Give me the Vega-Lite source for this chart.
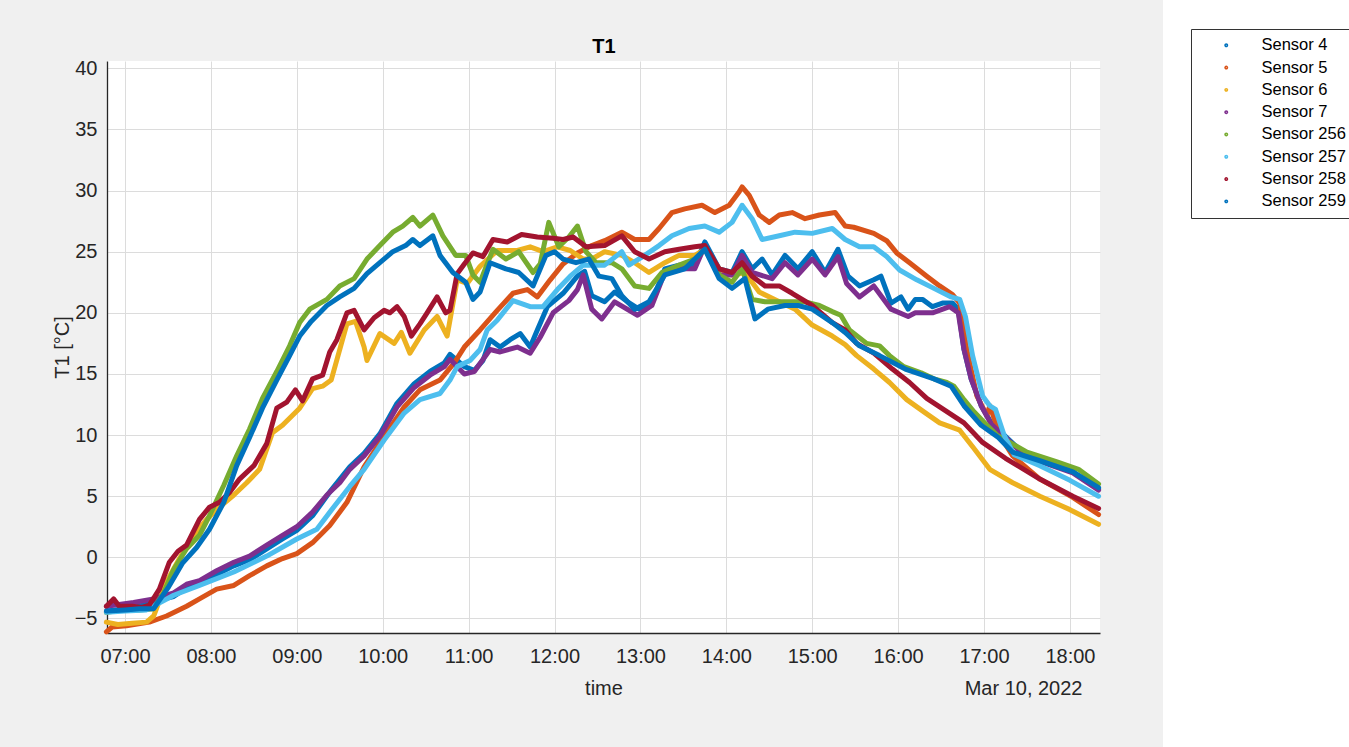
{
"$schema": "https://vega.github.io/schema/vega-lite/v6.json",
"width": 993, "height": 572,
"autosize": {"type": "none"},
"padding": {"left": 107, "top": 61, "right": 249, "bottom": 114},
"background": "#f0f0f0",
"data": {"values": [
{"s":"Sensor 4","t":"2022-03-10T06:47","v":-4.4},{"s":"Sensor 4","t":"2022-03-10T07:00","v":-4.2},{"s":"Sensor 4","t":"2022-03-10T07:10","v":-4.0},{"s":"Sensor 4","t":"2022-03-10T07:20","v":-3.6},{"s":"Sensor 4","t":"2022-03-10T07:34","v":-3.2},{"s":"Sensor 4","t":"2022-03-10T07:43","v":-2.5},{"s":"Sensor 4","t":"2022-03-10T07:52","v":-2.1},{"s":"Sensor 4","t":"2022-03-10T08:04","v":-1.4},{"s":"Sensor 4","t":"2022-03-10T08:16","v":-0.7},{"s":"Sensor 4","t":"2022-03-10T08:27","v":-0.2},{"s":"Sensor 4","t":"2022-03-10T08:39","v":0.7},{"s":"Sensor 4","t":"2022-03-10T08:50","v":1.5},{"s":"Sensor 4","t":"2022-03-10T09:00","v":2.2},{"s":"Sensor 4","t":"2022-03-10T09:11","v":3.4},{"s":"Sensor 4","t":"2022-03-10T09:24","v":5.5},{"s":"Sensor 4","t":"2022-03-10T09:37","v":7.4},{"s":"Sensor 4","t":"2022-03-10T09:47","v":8.5},{"s":"Sensor 4","t":"2022-03-10T09:58","v":10.1},{"s":"Sensor 4","t":"2022-03-10T10:10","v":12.6},{"s":"Sensor 4","t":"2022-03-10T10:22","v":14.2},{"s":"Sensor 4","t":"2022-03-10T10:33","v":15.2},{"s":"Sensor 4","t":"2022-03-10T10:43","v":15.9},{"s":"Sensor 4","t":"2022-03-10T10:47","v":16.6},{"s":"Sensor 4","t":"2022-03-10T10:52","v":16.1},{"s":"Sensor 4","t":"2022-03-10T10:57","v":15.6},{"s":"Sensor 4","t":"2022-03-10T11:04","v":15.3},{"s":"Sensor 4","t":"2022-03-10T11:10","v":16.1},{"s":"Sensor 4","t":"2022-03-10T11:15","v":17.8},{"s":"Sensor 4","t":"2022-03-10T11:22","v":17.2},{"s":"Sensor 4","t":"2022-03-10T11:29","v":17.8},{"s":"Sensor 4","t":"2022-03-10T11:36","v":18.3},{"s":"Sensor 4","t":"2022-03-10T11:43","v":17.2},{"s":"Sensor 4","t":"2022-03-10T11:48","v":18.6},{"s":"Sensor 4","t":"2022-03-10T11:55","v":20.5},{"s":"Sensor 4","t":"2022-03-10T12:06","v":21.6},{"s":"Sensor 4","t":"2022-03-10T12:16","v":23.0},{"s":"Sensor 4","t":"2022-03-10T12:21","v":23.4},{"s":"Sensor 4","t":"2022-03-10T12:26","v":21.4},{"s":"Sensor 4","t":"2022-03-10T12:35","v":20.9},{"s":"Sensor 4","t":"2022-03-10T12:42","v":21.7},{"s":"Sensor 4","t":"2022-03-10T12:51","v":20.9},{"s":"Sensor 4","t":"2022-03-10T12:59","v":20.3},{"s":"Sensor 4","t":"2022-03-10T13:08","v":20.9},{"s":"Sensor 4","t":"2022-03-10T13:17","v":23.6},{"s":"Sensor 4","t":"2022-03-10T13:27","v":23.9},{"s":"Sensor 4","t":"2022-03-10T13:38","v":23.9},{"s":"Sensor 4","t":"2022-03-10T13:45","v":25.8},{"s":"Sensor 4","t":"2022-03-10T13:55","v":23.6},{"s":"Sensor 4","t":"2022-03-10T14:04","v":23.3},{"s":"Sensor 4","t":"2022-03-10T14:11","v":25.0},{"s":"Sensor 4","t":"2022-03-10T14:18","v":23.6},{"s":"Sensor 4","t":"2022-03-10T14:25","v":24.4},{"s":"Sensor 4","t":"2022-03-10T14:32","v":23.1},{"s":"Sensor 4","t":"2022-03-10T14:41","v":24.7},{"s":"Sensor 4","t":"2022-03-10T14:50","v":23.6},{"s":"Sensor 4","t":"2022-03-10T15:00","v":25.0},{"s":"Sensor 4","t":"2022-03-10T15:09","v":23.3},{"s":"Sensor 4","t":"2022-03-10T15:18","v":25.2},{"s":"Sensor 4","t":"2022-03-10T15:25","v":23.0},{"s":"Sensor 4","t":"2022-03-10T15:33","v":22.2},{"s":"Sensor 4","t":"2022-03-10T15:43","v":22.7},{"s":"Sensor 4","t":"2022-03-10T15:48","v":23.0},{"s":"Sensor 4","t":"2022-03-10T15:55","v":20.8},{"s":"Sensor 4","t":"2022-03-10T16:02","v":21.3},{"s":"Sensor 4","t":"2022-03-10T16:07","v":20.3},{"s":"Sensor 4","t":"2022-03-10T16:12","v":21.1},{"s":"Sensor 4","t":"2022-03-10T16:17","v":21.1},{"s":"Sensor 4","t":"2022-03-10T16:24","v":20.5},{"s":"Sensor 4","t":"2022-03-10T16:31","v":20.8},{"s":"Sensor 4","t":"2022-03-10T16:38","v":20.8},{"s":"Sensor 4","t":"2022-03-10T16:42","v":20.3},{"s":"Sensor 4","t":"2022-03-10T16:46","v":17.0},{"s":"Sensor 4","t":"2022-03-10T16:51","v":14.6},{"s":"Sensor 4","t":"2022-03-10T16:58","v":12.4},{"s":"Sensor 4","t":"2022-03-10T17:05","v":11.0},{"s":"Sensor 4","t":"2022-03-10T17:14","v":10.0},{"s":"Sensor 4","t":"2022-03-10T17:25","v":8.8},{"s":"Sensor 4","t":"2022-03-10T17:40","v":7.9},{"s":"Sensor 4","t":"2022-03-10T18:02","v":7.0},{"s":"Sensor 4","t":"2022-03-10T18:20","v":5.6},
{"s":"Sensor 5","t":"2022-03-10T06:47","v":-6.1},{"s":"Sensor 5","t":"2022-03-10T06:51","v":-5.7},{"s":"Sensor 5","t":"2022-03-10T07:01","v":-5.6},{"s":"Sensor 5","t":"2022-03-10T07:17","v":-5.3},{"s":"Sensor 5","t":"2022-03-10T07:29","v":-4.8},{"s":"Sensor 5","t":"2022-03-10T07:43","v":-4.0},{"s":"Sensor 5","t":"2022-03-10T07:52","v":-3.4},{"s":"Sensor 5","t":"2022-03-10T08:04","v":-2.6},{"s":"Sensor 5","t":"2022-03-10T08:16","v":-2.3},{"s":"Sensor 5","t":"2022-03-10T08:27","v":-1.5},{"s":"Sensor 5","t":"2022-03-10T08:39","v":-0.7},{"s":"Sensor 5","t":"2022-03-10T08:50","v":-0.1},{"s":"Sensor 5","t":"2022-03-10T09:00","v":0.3},{"s":"Sensor 5","t":"2022-03-10T09:11","v":1.2},{"s":"Sensor 5","t":"2022-03-10T09:23","v":2.6},{"s":"Sensor 5","t":"2022-03-10T09:35","v":4.5},{"s":"Sensor 5","t":"2022-03-10T09:47","v":7.4},{"s":"Sensor 5","t":"2022-03-10T10:01","v":9.9},{"s":"Sensor 5","t":"2022-03-10T10:15","v":12.3},{"s":"Sensor 5","t":"2022-03-10T10:26","v":13.7},{"s":"Sensor 5","t":"2022-03-10T10:40","v":14.5},{"s":"Sensor 5","t":"2022-03-10T10:50","v":15.9},{"s":"Sensor 5","t":"2022-03-10T10:57","v":17.2},{"s":"Sensor 5","t":"2022-03-10T11:08","v":18.6},{"s":"Sensor 5","t":"2022-03-10T11:20","v":20.2},{"s":"Sensor 5","t":"2022-03-10T11:31","v":21.6},{"s":"Sensor 5","t":"2022-03-10T11:41","v":21.9},{"s":"Sensor 5","t":"2022-03-10T11:48","v":21.3},{"s":"Sensor 5","t":"2022-03-10T11:57","v":22.7},{"s":"Sensor 5","t":"2022-03-10T12:06","v":24.0},{"s":"Sensor 5","t":"2022-03-10T12:16","v":24.9},{"s":"Sensor 5","t":"2022-03-10T12:26","v":25.5},{"s":"Sensor 5","t":"2022-03-10T12:35","v":25.9},{"s":"Sensor 5","t":"2022-03-10T12:47","v":26.6},{"s":"Sensor 5","t":"2022-03-10T12:56","v":26.0},{"s":"Sensor 5","t":"2022-03-10T13:06","v":26.0},{"s":"Sensor 5","t":"2022-03-10T13:13","v":26.9},{"s":"Sensor 5","t":"2022-03-10T13:22","v":28.2},{"s":"Sensor 5","t":"2022-03-10T13:31","v":28.5},{"s":"Sensor 5","t":"2022-03-10T13:43","v":28.8},{"s":"Sensor 5","t":"2022-03-10T13:52","v":28.2},{"s":"Sensor 5","t":"2022-03-10T14:02","v":28.8},{"s":"Sensor 5","t":"2022-03-10T14:09","v":29.9},{"s":"Sensor 5","t":"2022-03-10T14:11","v":30.3},{"s":"Sensor 5","t":"2022-03-10T14:16","v":29.6},{"s":"Sensor 5","t":"2022-03-10T14:23","v":28.0},{"s":"Sensor 5","t":"2022-03-10T14:30","v":27.4},{"s":"Sensor 5","t":"2022-03-10T14:37","v":28.0},{"s":"Sensor 5","t":"2022-03-10T14:46","v":28.2},{"s":"Sensor 5","t":"2022-03-10T14:55","v":27.7},{"s":"Sensor 5","t":"2022-03-10T15:05","v":28.0},{"s":"Sensor 5","t":"2022-03-10T15:16","v":28.2},{"s":"Sensor 5","t":"2022-03-10T15:23","v":27.1},{"s":"Sensor 5","t":"2022-03-10T15:29","v":27.0},{"s":"Sensor 5","t":"2022-03-10T15:43","v":26.5},{"s":"Sensor 5","t":"2022-03-10T15:52","v":25.9},{"s":"Sensor 5","t":"2022-03-10T15:59","v":24.9},{"s":"Sensor 5","t":"2022-03-10T16:08","v":24.1},{"s":"Sensor 5","t":"2022-03-10T16:20","v":23.0},{"s":"Sensor 5","t":"2022-03-10T16:29","v":22.2},{"s":"Sensor 5","t":"2022-03-10T16:38","v":21.5},{"s":"Sensor 5","t":"2022-03-10T16:43","v":20.8},{"s":"Sensor 5","t":"2022-03-10T16:48","v":17.0},{"s":"Sensor 5","t":"2022-03-10T16:55","v":13.2},{"s":"Sensor 5","t":"2022-03-10T17:02","v":11.6},{"s":"Sensor 5","t":"2022-03-10T17:04","v":12.4},{"s":"Sensor 5","t":"2022-03-10T17:11","v":10.0},{"s":"Sensor 5","t":"2022-03-10T17:20","v":8.3},{"s":"Sensor 5","t":"2022-03-10T17:39","v":6.4},{"s":"Sensor 5","t":"2022-03-10T18:02","v":4.9},{"s":"Sensor 5","t":"2022-03-10T18:20","v":3.5},
{"s":"Sensor 6","t":"2022-03-10T06:47","v":-5.3},{"s":"Sensor 6","t":"2022-03-10T06:55","v":-5.5},{"s":"Sensor 6","t":"2022-03-10T07:05","v":-5.4},{"s":"Sensor 6","t":"2022-03-10T07:15","v":-5.3},{"s":"Sensor 6","t":"2022-03-10T07:20","v":-4.8},{"s":"Sensor 6","t":"2022-03-10T07:29","v":-2.0},{"s":"Sensor 6","t":"2022-03-10T07:38","v":-0.1},{"s":"Sensor 6","t":"2022-03-10T07:48","v":1.8},{"s":"Sensor 6","t":"2022-03-10T07:57","v":3.1},{"s":"Sensor 6","t":"2022-03-10T08:06","v":4.1},{"s":"Sensor 6","t":"2022-03-10T08:16","v":5.1},{"s":"Sensor 6","t":"2022-03-10T08:25","v":6.1},{"s":"Sensor 6","t":"2022-03-10T08:34","v":7.2},{"s":"Sensor 6","t":"2022-03-10T08:43","v":10.2},{"s":"Sensor 6","t":"2022-03-10T08:50","v":10.8},{"s":"Sensor 6","t":"2022-03-10T09:02","v":12.2},{"s":"Sensor 6","t":"2022-03-10T09:11","v":13.8},{"s":"Sensor 6","t":"2022-03-10T09:18","v":14.0},{"s":"Sensor 6","t":"2022-03-10T09:24","v":14.5},{"s":"Sensor 6","t":"2022-03-10T09:35","v":19.1},{"s":"Sensor 6","t":"2022-03-10T09:41","v":19.3},{"s":"Sensor 6","t":"2022-03-10T09:47","v":17.2},{"s":"Sensor 6","t":"2022-03-10T09:49","v":16.1},{"s":"Sensor 6","t":"2022-03-10T09:58","v":18.3},{"s":"Sensor 6","t":"2022-03-10T10:08","v":17.5},{"s":"Sensor 6","t":"2022-03-10T10:13","v":18.4},{"s":"Sensor 6","t":"2022-03-10T10:19","v":16.7},{"s":"Sensor 6","t":"2022-03-10T10:29","v":18.6},{"s":"Sensor 6","t":"2022-03-10T10:38","v":19.7},{"s":"Sensor 6","t":"2022-03-10T10:45","v":18.1},{"s":"Sensor 6","t":"2022-03-10T10:52","v":22.7},{"s":"Sensor 6","t":"2022-03-10T10:59","v":22.4},{"s":"Sensor 6","t":"2022-03-10T11:08","v":23.8},{"s":"Sensor 6","t":"2022-03-10T11:20","v":25.1},{"s":"Sensor 6","t":"2022-03-10T11:34","v":25.1},{"s":"Sensor 6","t":"2022-03-10T11:43","v":25.4},{"s":"Sensor 6","t":"2022-03-10T11:52","v":25.0},{"s":"Sensor 6","t":"2022-03-10T12:02","v":25.4},{"s":"Sensor 6","t":"2022-03-10T12:11","v":25.1},{"s":"Sensor 6","t":"2022-03-10T12:20","v":24.4},{"s":"Sensor 6","t":"2022-03-10T12:26","v":24.4},{"s":"Sensor 6","t":"2022-03-10T12:35","v":25.0},{"s":"Sensor 6","t":"2022-03-10T12:47","v":24.7},{"s":"Sensor 6","t":"2022-03-10T12:56","v":24.1},{"s":"Sensor 6","t":"2022-03-10T13:06","v":23.3},{"s":"Sensor 6","t":"2022-03-10T13:17","v":24.1},{"s":"Sensor 6","t":"2022-03-10T13:27","v":24.7},{"s":"Sensor 6","t":"2022-03-10T13:38","v":24.7},{"s":"Sensor 6","t":"2022-03-10T13:45","v":25.2},{"s":"Sensor 6","t":"2022-03-10T13:55","v":23.6},{"s":"Sensor 6","t":"2022-03-10T14:04","v":23.1},{"s":"Sensor 6","t":"2022-03-10T14:13","v":23.3},{"s":"Sensor 6","t":"2022-03-10T14:23","v":21.7},{"s":"Sensor 6","t":"2022-03-10T14:37","v":20.9},{"s":"Sensor 6","t":"2022-03-10T14:48","v":20.3},{"s":"Sensor 6","t":"2022-03-10T15:00","v":19.0},{"s":"Sensor 6","t":"2022-03-10T15:14","v":18.1},{"s":"Sensor 6","t":"2022-03-10T15:23","v":17.4},{"s":"Sensor 6","t":"2022-03-10T15:31","v":16.5},{"s":"Sensor 6","t":"2022-03-10T15:43","v":15.4},{"s":"Sensor 6","t":"2022-03-10T15:54","v":14.3},{"s":"Sensor 6","t":"2022-03-10T16:06","v":12.9},{"s":"Sensor 6","t":"2022-03-10T16:18","v":11.9},{"s":"Sensor 6","t":"2022-03-10T16:29","v":11.0},{"s":"Sensor 6","t":"2022-03-10T16:43","v":10.4},{"s":"Sensor 6","t":"2022-03-10T16:53","v":8.9},{"s":"Sensor 6","t":"2022-03-10T17:04","v":7.2},{"s":"Sensor 6","t":"2022-03-10T17:20","v":6.1},{"s":"Sensor 6","t":"2022-03-10T17:39","v":5.0},{"s":"Sensor 6","t":"2022-03-10T18:00","v":3.9},{"s":"Sensor 6","t":"2022-03-10T18:20","v":2.7},
{"s":"Sensor 7","t":"2022-03-10T06:47","v":-4.0},{"s":"Sensor 7","t":"2022-03-10T07:06","v":-3.7},{"s":"Sensor 7","t":"2022-03-10T07:20","v":-3.4},{"s":"Sensor 7","t":"2022-03-10T07:34","v":-2.9},{"s":"Sensor 7","t":"2022-03-10T07:43","v":-2.2},{"s":"Sensor 7","t":"2022-03-10T07:52","v":-1.9},{"s":"Sensor 7","t":"2022-03-10T08:04","v":-1.1},{"s":"Sensor 7","t":"2022-03-10T08:16","v":-0.4},{"s":"Sensor 7","t":"2022-03-10T08:27","v":0.1},{"s":"Sensor 7","t":"2022-03-10T08:39","v":1.0},{"s":"Sensor 7","t":"2022-03-10T08:50","v":1.8},{"s":"Sensor 7","t":"2022-03-10T09:00","v":2.5},{"s":"Sensor 7","t":"2022-03-10T09:11","v":3.7},{"s":"Sensor 7","t":"2022-03-10T09:21","v":5.1},{"s":"Sensor 7","t":"2022-03-10T09:30","v":6.1},{"s":"Sensor 7","t":"2022-03-10T09:37","v":7.2},{"s":"Sensor 7","t":"2022-03-10T09:47","v":8.3},{"s":"Sensor 7","t":"2022-03-10T09:58","v":9.9},{"s":"Sensor 7","t":"2022-03-10T10:10","v":12.3},{"s":"Sensor 7","t":"2022-03-10T10:22","v":13.9},{"s":"Sensor 7","t":"2022-03-10T10:33","v":14.9},{"s":"Sensor 7","t":"2022-03-10T10:43","v":15.6},{"s":"Sensor 7","t":"2022-03-10T10:47","v":16.2},{"s":"Sensor 7","t":"2022-03-10T10:57","v":15.0},{"s":"Sensor 7","t":"2022-03-10T11:04","v":15.2},{"s":"Sensor 7","t":"2022-03-10T11:15","v":17.0},{"s":"Sensor 7","t":"2022-03-10T11:22","v":16.8},{"s":"Sensor 7","t":"2022-03-10T11:34","v":17.2},{"s":"Sensor 7","t":"2022-03-10T11:43","v":16.7},{"s":"Sensor 7","t":"2022-03-10T11:50","v":18.0},{"s":"Sensor 7","t":"2022-03-10T11:59","v":20.0},{"s":"Sensor 7","t":"2022-03-10T12:10","v":21.0},{"s":"Sensor 7","t":"2022-03-10T12:16","v":21.9},{"s":"Sensor 7","t":"2022-03-10T12:20","v":23.1},{"s":"Sensor 7","t":"2022-03-10T12:26","v":20.3},{"s":"Sensor 7","t":"2022-03-10T12:33","v":19.5},{"s":"Sensor 7","t":"2022-03-10T12:42","v":20.9},{"s":"Sensor 7","t":"2022-03-10T12:58","v":19.8},{"s":"Sensor 7","t":"2022-03-10T13:08","v":20.6},{"s":"Sensor 7","t":"2022-03-10T13:17","v":23.3},{"s":"Sensor 7","t":"2022-03-10T13:27","v":23.6},{"s":"Sensor 7","t":"2022-03-10T13:38","v":23.6},{"s":"Sensor 7","t":"2022-03-10T13:45","v":25.5},{"s":"Sensor 7","t":"2022-03-10T13:55","v":23.1},{"s":"Sensor 7","t":"2022-03-10T14:04","v":23.1},{"s":"Sensor 7","t":"2022-03-10T14:11","v":24.7},{"s":"Sensor 7","t":"2022-03-10T14:18","v":23.3},{"s":"Sensor 7","t":"2022-03-10T14:32","v":22.8},{"s":"Sensor 7","t":"2022-03-10T14:41","v":24.1},{"s":"Sensor 7","t":"2022-03-10T14:50","v":23.1},{"s":"Sensor 7","t":"2022-03-10T15:00","v":24.4},{"s":"Sensor 7","t":"2022-03-10T15:09","v":23.1},{"s":"Sensor 7","t":"2022-03-10T15:18","v":24.6},{"s":"Sensor 7","t":"2022-03-10T15:24","v":22.4},{"s":"Sensor 7","t":"2022-03-10T15:33","v":21.3},{"s":"Sensor 7","t":"2022-03-10T15:43","v":22.2},{"s":"Sensor 7","t":"2022-03-10T15:55","v":20.3},{"s":"Sensor 7","t":"2022-03-10T16:07","v":19.7},{"s":"Sensor 7","t":"2022-03-10T16:12","v":20.0},{"s":"Sensor 7","t":"2022-03-10T16:24","v":20.0},{"s":"Sensor 7","t":"2022-03-10T16:36","v":20.5},{"s":"Sensor 7","t":"2022-03-10T16:42","v":20.0},{"s":"Sensor 7","t":"2022-03-10T16:46","v":17.0},{"s":"Sensor 7","t":"2022-03-10T16:51","v":14.6},{"s":"Sensor 7","t":"2022-03-10T16:58","v":12.4},{"s":"Sensor 7","t":"2022-03-10T17:05","v":10.9},{"s":"Sensor 7","t":"2022-03-10T17:14","v":9.9},{"s":"Sensor 7","t":"2022-03-10T17:25","v":8.7},{"s":"Sensor 7","t":"2022-03-10T17:40","v":7.8},{"s":"Sensor 7","t":"2022-03-10T18:02","v":6.9},{"s":"Sensor 7","t":"2022-03-10T18:20","v":5.5},
{"s":"Sensor 256","t":"2022-03-10T06:47","v":-4.5},{"s":"Sensor 256","t":"2022-03-10T07:00","v":-4.3},{"s":"Sensor 256","t":"2022-03-10T07:10","v":-4.3},{"s":"Sensor 256","t":"2022-03-10T07:20","v":-4.2},{"s":"Sensor 256","t":"2022-03-10T07:27","v":-2.9},{"s":"Sensor 256","t":"2022-03-10T07:34","v":-1.0},{"s":"Sensor 256","t":"2022-03-10T07:43","v":0.7},{"s":"Sensor 256","t":"2022-03-10T07:52","v":1.8},{"s":"Sensor 256","t":"2022-03-10T07:59","v":3.4},{"s":"Sensor 256","t":"2022-03-10T08:09","v":5.9},{"s":"Sensor 256","t":"2022-03-10T08:18","v":8.3},{"s":"Sensor 256","t":"2022-03-10T08:27","v":10.5},{"s":"Sensor 256","t":"2022-03-10T08:36","v":13.0},{"s":"Sensor 256","t":"2022-03-10T08:46","v":15.2},{"s":"Sensor 256","t":"2022-03-10T08:55","v":17.3},{"s":"Sensor 256","t":"2022-03-10T09:02","v":19.2},{"s":"Sensor 256","t":"2022-03-10T09:09","v":20.3},{"s":"Sensor 256","t":"2022-03-10T09:21","v":21.1},{"s":"Sensor 256","t":"2022-03-10T09:30","v":22.2},{"s":"Sensor 256","t":"2022-03-10T09:40","v":22.8},{"s":"Sensor 256","t":"2022-03-10T09:49","v":24.4},{"s":"Sensor 256","t":"2022-03-10T09:58","v":25.5},{"s":"Sensor 256","t":"2022-03-10T10:07","v":26.6},{"s":"Sensor 256","t":"2022-03-10T10:14","v":27.1},{"s":"Sensor 256","t":"2022-03-10T10:21","v":27.8},{"s":"Sensor 256","t":"2022-03-10T10:26","v":27.1},{"s":"Sensor 256","t":"2022-03-10T10:35","v":28.0},{"s":"Sensor 256","t":"2022-03-10T10:42","v":26.3},{"s":"Sensor 256","t":"2022-03-10T10:51","v":24.7},{"s":"Sensor 256","t":"2022-03-10T10:58","v":24.7},{"s":"Sensor 256","t":"2022-03-10T11:03","v":23.1},{"s":"Sensor 256","t":"2022-03-10T11:08","v":22.5},{"s":"Sensor 256","t":"2022-03-10T11:17","v":25.2},{"s":"Sensor 256","t":"2022-03-10T11:26","v":24.4},{"s":"Sensor 256","t":"2022-03-10T11:35","v":25.0},{"s":"Sensor 256","t":"2022-03-10T11:45","v":23.3},{"s":"Sensor 256","t":"2022-03-10T11:50","v":24.0},{"s":"Sensor 256","t":"2022-03-10T11:56","v":27.4},{"s":"Sensor 256","t":"2022-03-10T12:03","v":25.4},{"s":"Sensor 256","t":"2022-03-10T12:10","v":26.2},{"s":"Sensor 256","t":"2022-03-10T12:16","v":27.1},{"s":"Sensor 256","t":"2022-03-10T12:22","v":25.0},{"s":"Sensor 256","t":"2022-03-10T12:29","v":24.1},{"s":"Sensor 256","t":"2022-03-10T12:40","v":24.1},{"s":"Sensor 256","t":"2022-03-10T12:47","v":23.6},{"s":"Sensor 256","t":"2022-03-10T12:56","v":22.2},{"s":"Sensor 256","t":"2022-03-10T13:06","v":22.0},{"s":"Sensor 256","t":"2022-03-10T13:15","v":23.3},{"s":"Sensor 256","t":"2022-03-10T13:27","v":23.9},{"s":"Sensor 256","t":"2022-03-10T13:38","v":24.4},{"s":"Sensor 256","t":"2022-03-10T13:45","v":25.2},{"s":"Sensor 256","t":"2022-03-10T13:55","v":23.1},{"s":"Sensor 256","t":"2022-03-10T14:04","v":22.5},{"s":"Sensor 256","t":"2022-03-10T14:11","v":23.6},{"s":"Sensor 256","t":"2022-03-10T14:18","v":21.1},{"s":"Sensor 256","t":"2022-03-10T14:27","v":20.9},{"s":"Sensor 256","t":"2022-03-10T14:44","v":20.9},{"s":"Sensor 256","t":"2022-03-10T14:55","v":20.9},{"s":"Sensor 256","t":"2022-03-10T15:05","v":20.6},{"s":"Sensor 256","t":"2022-03-10T15:14","v":20.1},{"s":"Sensor 256","t":"2022-03-10T15:20","v":19.8},{"s":"Sensor 256","t":"2022-03-10T15:26","v":18.6},{"s":"Sensor 256","t":"2022-03-10T15:38","v":17.5},{"s":"Sensor 256","t":"2022-03-10T15:47","v":17.3},{"s":"Sensor 256","t":"2022-03-10T15:54","v":16.5},{"s":"Sensor 256","t":"2022-03-10T16:04","v":15.6},{"s":"Sensor 256","t":"2022-03-10T16:16","v":15.1},{"s":"Sensor 256","t":"2022-03-10T16:25","v":14.6},{"s":"Sensor 256","t":"2022-03-10T16:34","v":14.3},{"s":"Sensor 256","t":"2022-03-10T16:39","v":14.0},{"s":"Sensor 256","t":"2022-03-10T16:46","v":12.9},{"s":"Sensor 256","t":"2022-03-10T16:53","v":11.9},{"s":"Sensor 256","t":"2022-03-10T17:02","v":10.8},{"s":"Sensor 256","t":"2022-03-10T17:09","v":10.0},{"s":"Sensor 256","t":"2022-03-10T17:30","v":8.6},{"s":"Sensor 256","t":"2022-03-10T17:51","v":7.8},{"s":"Sensor 256","t":"2022-03-10T18:06","v":7.2},{"s":"Sensor 256","t":"2022-03-10T18:20","v":6.0},
{"s":"Sensor 257","t":"2022-03-10T06:47","v":-4.5},{"s":"Sensor 257","t":"2022-03-10T07:00","v":-4.4},{"s":"Sensor 257","t":"2022-03-10T07:15","v":-4.3},{"s":"Sensor 257","t":"2022-03-10T07:34","v":-3.1},{"s":"Sensor 257","t":"2022-03-10T07:52","v":-2.3},{"s":"Sensor 257","t":"2022-03-10T08:16","v":-1.2},{"s":"Sensor 257","t":"2022-03-10T08:39","v":0.1},{"s":"Sensor 257","t":"2022-03-10T09:00","v":1.5},{"s":"Sensor 257","t":"2022-03-10T09:14","v":2.3},{"s":"Sensor 257","t":"2022-03-10T09:25","v":4.0},{"s":"Sensor 257","t":"2022-03-10T09:37","v":5.8},{"s":"Sensor 257","t":"2022-03-10T09:47","v":7.2},{"s":"Sensor 257","t":"2022-03-10T10:01","v":9.6},{"s":"Sensor 257","t":"2022-03-10T10:15","v":11.8},{"s":"Sensor 257","t":"2022-03-10T10:26","v":12.9},{"s":"Sensor 257","t":"2022-03-10T10:40","v":13.4},{"s":"Sensor 257","t":"2022-03-10T10:47","v":14.5},{"s":"Sensor 257","t":"2022-03-10T10:52","v":15.6},{"s":"Sensor 257","t":"2022-03-10T11:01","v":16.1},{"s":"Sensor 257","t":"2022-03-10T11:08","v":17.0},{"s":"Sensor 257","t":"2022-03-10T11:13","v":18.6},{"s":"Sensor 257","t":"2022-03-10T11:20","v":19.4},{"s":"Sensor 257","t":"2022-03-10T11:31","v":21.0},{"s":"Sensor 257","t":"2022-03-10T11:43","v":20.5},{"s":"Sensor 257","t":"2022-03-10T11:52","v":20.5},{"s":"Sensor 257","t":"2022-03-10T12:02","v":21.9},{"s":"Sensor 257","t":"2022-03-10T12:11","v":23.0},{"s":"Sensor 257","t":"2022-03-10T12:20","v":23.9},{"s":"Sensor 257","t":"2022-03-10T12:35","v":23.9},{"s":"Sensor 257","t":"2022-03-10T12:47","v":25.0},{"s":"Sensor 257","t":"2022-03-10T12:52","v":23.9},{"s":"Sensor 257","t":"2022-03-10T13:03","v":24.7},{"s":"Sensor 257","t":"2022-03-10T13:13","v":25.5},{"s":"Sensor 257","t":"2022-03-10T13:22","v":26.3},{"s":"Sensor 257","t":"2022-03-10T13:34","v":26.9},{"s":"Sensor 257","t":"2022-03-10T13:45","v":27.1},{"s":"Sensor 257","t":"2022-03-10T13:55","v":26.6},{"s":"Sensor 257","t":"2022-03-10T14:04","v":27.4},{"s":"Sensor 257","t":"2022-03-10T14:11","v":28.8},{"s":"Sensor 257","t":"2022-03-10T14:18","v":27.7},{"s":"Sensor 257","t":"2022-03-10T14:25","v":26.0},{"s":"Sensor 257","t":"2022-03-10T14:37","v":26.3},{"s":"Sensor 257","t":"2022-03-10T14:48","v":26.6},{"s":"Sensor 257","t":"2022-03-10T15:00","v":26.5},{"s":"Sensor 257","t":"2022-03-10T15:14","v":26.9},{"s":"Sensor 257","t":"2022-03-10T15:23","v":26.0},{"s":"Sensor 257","t":"2022-03-10T15:33","v":25.4},{"s":"Sensor 257","t":"2022-03-10T15:43","v":25.4},{"s":"Sensor 257","t":"2022-03-10T15:52","v":24.6},{"s":"Sensor 257","t":"2022-03-10T16:01","v":23.5},{"s":"Sensor 257","t":"2022-03-10T16:13","v":22.7},{"s":"Sensor 257","t":"2022-03-10T16:25","v":22.0},{"s":"Sensor 257","t":"2022-03-10T16:37","v":21.3},{"s":"Sensor 257","t":"2022-03-10T16:43","v":21.1},{"s":"Sensor 257","t":"2022-03-10T16:47","v":19.7},{"s":"Sensor 257","t":"2022-03-10T16:52","v":16.5},{"s":"Sensor 257","t":"2022-03-10T16:59","v":13.2},{"s":"Sensor 257","t":"2022-03-10T17:04","v":12.4},{"s":"Sensor 257","t":"2022-03-10T17:08","v":12.1},{"s":"Sensor 257","t":"2022-03-10T17:14","v":10.0},{"s":"Sensor 257","t":"2022-03-10T17:21","v":8.4},{"s":"Sensor 257","t":"2022-03-10T17:39","v":7.5},{"s":"Sensor 257","t":"2022-03-10T18:00","v":6.3},{"s":"Sensor 257","t":"2022-03-10T18:20","v":5.0},
{"s":"Sensor 258","t":"2022-03-10T06:47","v":-4.0},{"s":"Sensor 258","t":"2022-03-10T06:52","v":-3.4},{"s":"Sensor 258","t":"2022-03-10T06:56","v":-4.0},{"s":"Sensor 258","t":"2022-03-10T07:05","v":-4.0},{"s":"Sensor 258","t":"2022-03-10T07:12","v":-4.1},{"s":"Sensor 258","t":"2022-03-10T07:17","v":-3.9},{"s":"Sensor 258","t":"2022-03-10T07:24","v":-2.6},{"s":"Sensor 258","t":"2022-03-10T07:31","v":-0.4},{"s":"Sensor 258","t":"2022-03-10T07:37","v":0.5},{"s":"Sensor 258","t":"2022-03-10T07:43","v":1.0},{"s":"Sensor 258","t":"2022-03-10T07:52","v":3.1},{"s":"Sensor 258","t":"2022-03-10T07:59","v":4.1},{"s":"Sensor 258","t":"2022-03-10T08:06","v":4.5},{"s":"Sensor 258","t":"2022-03-10T08:13","v":5.3},{"s":"Sensor 258","t":"2022-03-10T08:20","v":6.4},{"s":"Sensor 258","t":"2022-03-10T08:30","v":7.5},{"s":"Sensor 258","t":"2022-03-10T08:39","v":9.3},{"s":"Sensor 258","t":"2022-03-10T08:46","v":12.2},{"s":"Sensor 258","t":"2022-03-10T08:53","v":12.7},{"s":"Sensor 258","t":"2022-03-10T08:59","v":13.7},{"s":"Sensor 258","t":"2022-03-10T09:04","v":12.8},{"s":"Sensor 258","t":"2022-03-10T09:11","v":14.6},{"s":"Sensor 258","t":"2022-03-10T09:18","v":14.9},{"s":"Sensor 258","t":"2022-03-10T09:23","v":16.8},{"s":"Sensor 258","t":"2022-03-10T09:28","v":17.8},{"s":"Sensor 258","t":"2022-03-10T09:35","v":20.0},{"s":"Sensor 258","t":"2022-03-10T09:40","v":20.2},{"s":"Sensor 258","t":"2022-03-10T09:47","v":18.6},{"s":"Sensor 258","t":"2022-03-10T09:54","v":19.6},{"s":"Sensor 258","t":"2022-03-10T10:01","v":20.2},{"s":"Sensor 258","t":"2022-03-10T10:05","v":20.0},{"s":"Sensor 258","t":"2022-03-10T10:10","v":20.5},{"s":"Sensor 258","t":"2022-03-10T10:15","v":19.7},{"s":"Sensor 258","t":"2022-03-10T10:20","v":18.1},{"s":"Sensor 258","t":"2022-03-10T10:26","v":19.1},{"s":"Sensor 258","t":"2022-03-10T10:31","v":20.0},{"s":"Sensor 258","t":"2022-03-10T10:38","v":21.3},{"s":"Sensor 258","t":"2022-03-10T10:44","v":20.0},{"s":"Sensor 258","t":"2022-03-10T10:47","v":20.2},{"s":"Sensor 258","t":"2022-03-10T10:52","v":23.2},{"s":"Sensor 258","t":"2022-03-10T10:57","v":24.0},{"s":"Sensor 258","t":"2022-03-10T11:03","v":24.9},{"s":"Sensor 258","t":"2022-03-10T11:10","v":24.6},{"s":"Sensor 258","t":"2022-03-10T11:17","v":26.0},{"s":"Sensor 258","t":"2022-03-10T11:27","v":25.8},{"s":"Sensor 258","t":"2022-03-10T11:37","v":26.4},{"s":"Sensor 258","t":"2022-03-10T11:48","v":26.2},{"s":"Sensor 258","t":"2022-03-10T11:59","v":26.1},{"s":"Sensor 258","t":"2022-03-10T12:06","v":26.0},{"s":"Sensor 258","t":"2022-03-10T12:13","v":26.2},{"s":"Sensor 258","t":"2022-03-10T12:22","v":25.4},{"s":"Sensor 258","t":"2022-03-10T12:35","v":25.5},{"s":"Sensor 258","t":"2022-03-10T12:47","v":26.3},{"s":"Sensor 258","t":"2022-03-10T12:56","v":25.0},{"s":"Sensor 258","t":"2022-03-10T13:06","v":24.4},{"s":"Sensor 258","t":"2022-03-10T13:17","v":25.0},{"s":"Sensor 258","t":"2022-03-10T13:27","v":25.2},{"s":"Sensor 258","t":"2022-03-10T13:38","v":25.4},{"s":"Sensor 258","t":"2022-03-10T13:45","v":25.5},{"s":"Sensor 258","t":"2022-03-10T13:55","v":23.6},{"s":"Sensor 258","t":"2022-03-10T14:04","v":23.3},{"s":"Sensor 258","t":"2022-03-10T14:11","v":24.1},{"s":"Sensor 258","t":"2022-03-10T14:18","v":23.0},{"s":"Sensor 258","t":"2022-03-10T14:27","v":22.2},{"s":"Sensor 258","t":"2022-03-10T14:37","v":22.2},{"s":"Sensor 258","t":"2022-03-10T14:46","v":21.6},{"s":"Sensor 258","t":"2022-03-10T15:00","v":20.6},{"s":"Sensor 258","t":"2022-03-10T15:14","v":19.2},{"s":"Sensor 258","t":"2022-03-10T15:23","v":18.6},{"s":"Sensor 258","t":"2022-03-10T15:31","v":17.5},{"s":"Sensor 258","t":"2022-03-10T15:43","v":16.7},{"s":"Sensor 258","t":"2022-03-10T15:56","v":15.4},{"s":"Sensor 258","t":"2022-03-10T16:08","v":14.3},{"s":"Sensor 258","t":"2022-03-10T16:20","v":13.0},{"s":"Sensor 258","t":"2022-03-10T16:33","v":12.0},{"s":"Sensor 258","t":"2022-03-10T16:46","v":11.0},{"s":"Sensor 258","t":"2022-03-10T16:59","v":9.4},{"s":"Sensor 258","t":"2022-03-10T17:15","v":8.1},{"s":"Sensor 258","t":"2022-03-10T17:39","v":6.4},{"s":"Sensor 258","t":"2022-03-10T18:02","v":5.0},{"s":"Sensor 258","t":"2022-03-10T18:20","v":4.0},
{"s":"Sensor 259","t":"2022-03-10T06:47","v":-4.4},{"s":"Sensor 259","t":"2022-03-10T07:00","v":-4.3},{"s":"Sensor 259","t":"2022-03-10T07:10","v":-4.2},{"s":"Sensor 259","t":"2022-03-10T07:20","v":-4.2},{"s":"Sensor 259","t":"2022-03-10T07:30","v":-2.5},{"s":"Sensor 259","t":"2022-03-10T07:40","v":-0.5},{"s":"Sensor 259","t":"2022-03-10T07:50","v":0.8},{"s":"Sensor 259","t":"2022-03-10T07:59","v":2.3},{"s":"Sensor 259","t":"2022-03-10T08:09","v":4.5},{"s":"Sensor 259","t":"2022-03-10T08:18","v":7.5},{"s":"Sensor 259","t":"2022-03-10T08:27","v":9.8},{"s":"Sensor 259","t":"2022-03-10T08:36","v":12.2},{"s":"Sensor 259","t":"2022-03-10T08:46","v":14.5},{"s":"Sensor 259","t":"2022-03-10T08:55","v":16.5},{"s":"Sensor 259","t":"2022-03-10T09:02","v":18.1},{"s":"Sensor 259","t":"2022-03-10T09:10","v":19.3},{"s":"Sensor 259","t":"2022-03-10T09:21","v":20.6},{"s":"Sensor 259","t":"2022-03-10T09:30","v":21.3},{"s":"Sensor 259","t":"2022-03-10T09:40","v":22.0},{"s":"Sensor 259","t":"2022-03-10T09:49","v":23.2},{"s":"Sensor 259","t":"2022-03-10T09:58","v":24.1},{"s":"Sensor 259","t":"2022-03-10T10:07","v":25.0},{"s":"Sensor 259","t":"2022-03-10T10:16","v":25.5},{"s":"Sensor 259","t":"2022-03-10T10:21","v":26.0},{"s":"Sensor 259","t":"2022-03-10T10:26","v":25.5},{"s":"Sensor 259","t":"2022-03-10T10:35","v":26.3},{"s":"Sensor 259","t":"2022-03-10T10:40","v":24.7},{"s":"Sensor 259","t":"2022-03-10T10:49","v":23.3},{"s":"Sensor 259","t":"2022-03-10T10:58","v":22.5},{"s":"Sensor 259","t":"2022-03-10T11:03","v":21.1},{"s":"Sensor 259","t":"2022-03-10T11:08","v":21.7},{"s":"Sensor 259","t":"2022-03-10T11:15","v":24.1},{"s":"Sensor 259","t":"2022-03-10T11:26","v":23.6},{"s":"Sensor 259","t":"2022-03-10T11:35","v":23.3},{"s":"Sensor 259","t":"2022-03-10T11:45","v":22.2},{"s":"Sensor 259","t":"2022-03-10T11:54","v":24.7},{"s":"Sensor 259","t":"2022-03-10T12:00","v":25.0},{"s":"Sensor 259","t":"2022-03-10T12:06","v":24.4},{"s":"Sensor 259","t":"2022-03-10T12:15","v":24.1},{"s":"Sensor 259","t":"2022-03-10T12:24","v":24.4},{"s":"Sensor 259","t":"2022-03-10T12:31","v":23.0},{"s":"Sensor 259","t":"2022-03-10T12:40","v":22.8},{"s":"Sensor 259","t":"2022-03-10T12:47","v":21.4},{"s":"Sensor 259","t":"2022-03-10T12:56","v":20.3},{"s":"Sensor 259","t":"2022-03-10T13:06","v":20.9},{"s":"Sensor 259","t":"2022-03-10T13:17","v":23.1},{"s":"Sensor 259","t":"2022-03-10T13:31","v":23.6},{"s":"Sensor 259","t":"2022-03-10T13:45","v":25.2},{"s":"Sensor 259","t":"2022-03-10T13:55","v":22.8},{"s":"Sensor 259","t":"2022-03-10T14:04","v":22.0},{"s":"Sensor 259","t":"2022-03-10T14:13","v":22.8},{"s":"Sensor 259","t":"2022-03-10T14:20","v":19.5},{"s":"Sensor 259","t":"2022-03-10T14:29","v":20.3},{"s":"Sensor 259","t":"2022-03-10T14:41","v":20.6},{"s":"Sensor 259","t":"2022-03-10T14:50","v":20.6},{"s":"Sensor 259","t":"2022-03-10T15:00","v":20.3},{"s":"Sensor 259","t":"2022-03-10T15:14","v":19.2},{"s":"Sensor 259","t":"2022-03-10T15:23","v":18.4},{"s":"Sensor 259","t":"2022-03-10T15:33","v":17.3},{"s":"Sensor 259","t":"2022-03-10T15:47","v":16.5},{"s":"Sensor 259","t":"2022-03-10T16:05","v":15.4},{"s":"Sensor 259","t":"2022-03-10T16:25","v":14.6},{"s":"Sensor 259","t":"2022-03-10T16:37","v":14.0},{"s":"Sensor 259","t":"2022-03-10T16:46","v":12.4},{"s":"Sensor 259","t":"2022-03-10T16:58","v":10.8},{"s":"Sensor 259","t":"2022-03-10T17:10","v":9.8},{"s":"Sensor 259","t":"2022-03-10T17:20","v":8.6},{"s":"Sensor 259","t":"2022-03-10T17:39","v":7.9},{"s":"Sensor 259","t":"2022-03-10T18:02","v":7.0},{"s":"Sensor 259","t":"2022-03-10T18:20","v":5.7}
]},
"encoding": {
  "y": {"field": "v", "type": "quantitative",
        "scale": {"domain": [-6.19, 40.6], "nice": false, "zero": false},
        "axis": {"values": [-5,0,5,10,15,20,25,30,35,40], "title": "T1 [°C]", "labelPadding": 10, "titleX": -45, "titleY": 286, "titleBaseline": "middle", "grid": true}}
},
"layer": [
  {
    "mark": {"type": "point", "opacity": 0, "filled": true},
    "encoding": {
      "x": {"field": "t", "type": "temporal",
            "scale": {"domain": [{"year": 2022, "month": 3, "date": 10, "hours": 6, "minutes": 47, "seconds": 25}, {"year": 2022, "month": 3, "date": 10, "hours": 18, "minutes": 21}]},
            "axis": {"orient": "bottom", "title": "Mar 10, 2022", "titleAnchor": "end", "titleAlign": "right", "titleX": 975, "titleY": 61, "titleBaseline": "alphabetic", "labels": false, "ticks": false, "domain": false, "grid": false}},
      "fill": {"field": "v", "type": "quantitative", "scale": {"range": ["#ffffff", "#ffffff"]},
               "legend": {"orient": "none", "legendX": 1056, "legendY": -61, "direction": "vertical", "gradientLength": 760, "gradientThickness": 190, "labelOpacity": 0, "labelExpr": "''", "title": null, "gradientStrokeWidth": 0, "padding": 0}}
    }
  },
  {
    "mark": {"type": "point", "opacity": 0, "filled": true},
    "encoding": {
      "x": {"field": "t", "type": "temporal",
            "scale": {"domain": [{"year": 2022, "month": 3, "date": 10, "hours": 6, "minutes": 47, "seconds": 25}, {"year": 2022, "month": 3, "date": 10, "hours": 18, "minutes": 21}]},
            "axis": {"orient": "top", "title": "T1", "titleFontWeight": "bold", "titleColor": "#000000", "titleFontSize": 20, "titleY": -9, "titleBaseline": "alphabetic", "labels": false, "ticks": false, "domain": false, "grid": false}}
    }
  },
  {
    "mark": {"type": "line", "strokeWidth": 5, "strokeJoin": "round", "strokeCap": "round"},
    "encoding": {
      "x": {"field": "t", "type": "temporal",
            "scale": {"domain": [{"year": 2022, "month": 3, "date": 10, "hours": 6, "minutes": 47, "seconds": 25}, {"year": 2022, "month": 3, "date": 10, "hours": 18, "minutes": 21}]},
            "axis": {"orient": "bottom", "format": "%H:%M", "tickCount": 12, "labelAngle": 0, "labelFlush": false, "labelPadding": 13, "title": "time", "titleY": 61, "titleBaseline": "alphabetic", "grid": true}},
      "color": {"field": "s", "type": "nominal",
                "scale": {"domain": ["Sensor 4","Sensor 5","Sensor 6","Sensor 7","Sensor 256","Sensor 257","Sensor 258","Sensor 259"],
                          "range": ["#0072BD","#D95319","#EDB120","#7E2F8E","#77AC30","#4DBEEE","#A2142F","#0072BD"]},
                "legend": {"title": null, "orient": "none", "legendX": 1084, "legendY": -32, "fillColor": "#ffffff", "strokeColor": "#333333", "padding": 8, "symbolType": "circle", "symbolSize": 6, "symbolStrokeWidth": 1.5, "symbolOffset": 19, "labelOffset": 27, "labelFontSize": 16.5, "labelFont": "Liberation Sans", "labelColor": "#000000", "rowPadding": 5.3}}
    }
  }
],
"resolve": {"axis": {"x": "independent"}},
"config": {
  "view": {"fill": "#ffffff", "stroke": null},
  "font": "Liberation Sans",
  "axis": {"labelFont": "Liberation Sans", "labelFontSize": 20, "labelColor": "#262626", "titleFont": "Liberation Sans", "titleFontSize": 20, "titleFontWeight": "normal", "titleColor": "#262626", "domainColor": "#262626", "domainWidth": 1.3, "tickColor": "#262626", "tickWidth": 1.3, "tickSize": 0, "gridColor": "#dcdcdc", "gridWidth": 1, "gridOpacity": 1}
}
}
